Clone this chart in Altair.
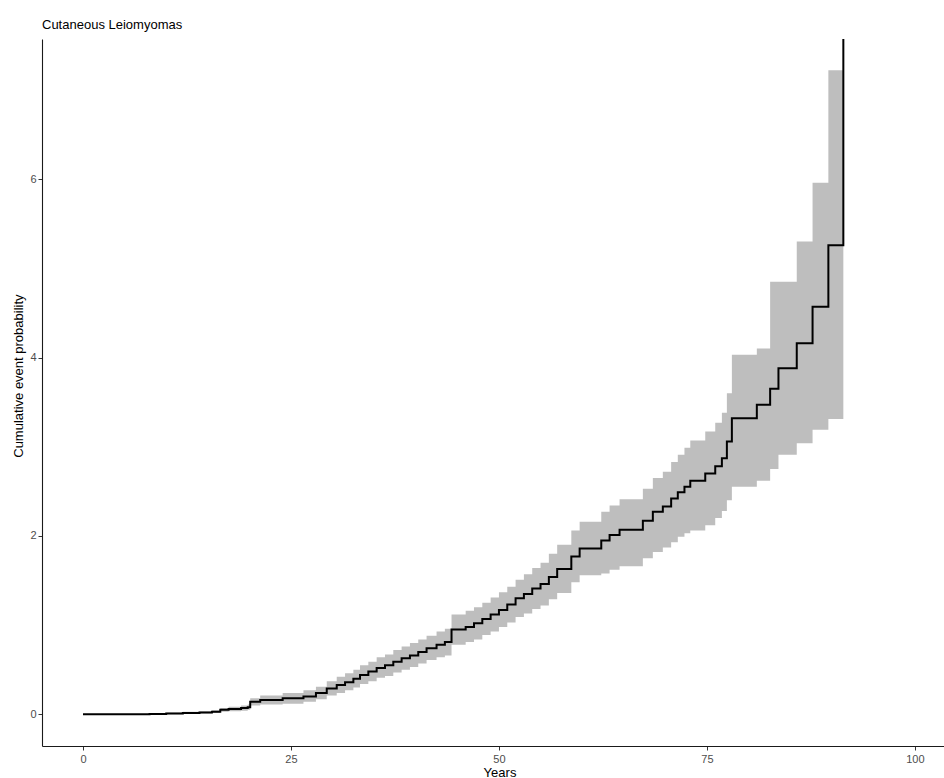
import altair as alt
import pandas as pd

# Step times (years) and cumulative event probability with confidence band
years = [0, 8, 10, 12, 14, 15.5, 16.5, 17.5, 19, 19.8, 20.1, 21.3, 24, 26.5, 28, 29.3,
         30.5, 31.5, 32.5, 33.3, 34.3, 35.3, 36.3, 37.3, 38.3, 39.3, 40.3, 41.3, 42.5,
         43.5, 44.3, 46, 47, 48, 49, 50, 51, 52, 53, 54, 55, 56, 57, 58.7, 59.7, 62.3,
         63.3, 64.5, 67.3, 68.5, 69.7, 70.7, 71.5, 72.3, 73, 74.8, 76, 76.8, 77.4, 78,
         81, 82.6, 83.6, 85.8, 87.7, 89.6, 91.4]
estimate = [0, 0.005, 0.01, 0.015, 0.02, 0.03, 0.05, 0.06, 0.07, 0.08, 0.14, 0.16, 0.18,
            0.20, 0.24, 0.29, 0.33, 0.36, 0.40, 0.44, 0.48, 0.52, 0.55, 0.59, 0.63, 0.66,
            0.70, 0.74, 0.78, 0.81, 0.95, 0.98, 1.02, 1.07, 1.12, 1.17, 1.23, 1.30, 1.35,
            1.41, 1.46, 1.54, 1.63, 1.77, 1.86, 1.95, 2.01, 2.07, 2.17, 2.27, 2.33, 2.42,
            2.49, 2.55, 2.62, 2.70, 2.78, 2.87, 3.06, 3.32, 3.47, 3.65, 3.88, 4.16, 4.57,
            5.26, 9.0]
lower = [0, 0, 0, 0.005, 0.01, 0.015, 0.03, 0.035, 0.04, 0.05, 0.10, 0.11, 0.12, 0.14,
         0.17, 0.21, 0.24, 0.27, 0.30, 0.34, 0.37, 0.41, 0.43, 0.47, 0.50, 0.53, 0.57,
         0.61, 0.64, 0.66, 0.78, 0.81, 0.84, 0.89, 0.93, 0.98, 1.03, 1.09, 1.13, 1.18,
         1.22, 1.29, 1.36, 1.48, 1.56, 1.58, 1.62, 1.66, 1.75, 1.82, 1.87, 1.93, 1.99,
         2.03, 2.06, 2.12, 2.20, 2.28, 2.40, 2.55, 2.62, 2.75, 2.91, 3.04, 3.19, 3.31, 3.31]
upper = [0, 0.01, 0.02, 0.03, 0.035, 0.045, 0.07, 0.085, 0.10, 0.11, 0.18, 0.21, 0.24,
         0.27, 0.31, 0.37, 0.42, 0.46, 0.50, 0.55, 0.59, 0.64, 0.67, 0.72, 0.76, 0.80,
         0.84, 0.88, 0.93, 0.96, 1.12, 1.16, 1.20, 1.25, 1.31, 1.37, 1.43, 1.51, 1.57,
         1.64, 1.70, 1.80, 1.90, 2.06, 2.16, 2.27, 2.34, 2.41, 2.53, 2.65, 2.72, 2.83,
         2.91, 2.99, 3.07, 3.17, 3.27, 3.38, 3.60, 4.03, 4.10, 4.85, 4.85, 5.30, 5.96,
         7.22, 7.22]

x_ticks = [0, 25, 50, 75, 100]
y_ticks = [0, 2, 4, 6]

df = pd.DataFrame({"years": years, "est": estimate, "lo": lower, "hi": upper})

FONT = "Liberation Sans"

x_scale = alt.Scale(domain=[-4.93, 103.5], nice=False, zero=False)
y_scale = alt.Scale(domain=[-0.355, 7.571], nice=False, zero=False)

x_enc = alt.X("years:Q", scale=x_scale,
              axis=alt.Axis(values=x_ticks, format="d", title="Years", grid=False,
                            domainColor="#1a1a1a", domainWidth=1.1,
                            tickColor="#333333", tickSize=4, tickWidth=1,
                            labelColor="#4d4d4d", labelFontSize=11, labelFont=FONT,
                            labelPadding=3, titleFont=FONT, titleFontSize=13,
                            titleFontWeight="normal", titleColor="#000000",
                            titleX=457.5, titlePadding=2))

band = alt.Chart(df).mark_area(interpolate="step-after", color="#bebebe",
                               opacity=1, clip=True).encode(
    x=x_enc,
    y=alt.Y("lo:Q", scale=y_scale,
            axis=alt.Axis(values=y_ticks, format="d",
                          title="Cumulative event probability",
                          grid=False, domainColor="#1a1a1a", domainWidth=1.1,
                          tickColor="#333333", tickSize=4, tickWidth=1,
                          labelColor="#4d4d4d", labelFontSize=11, labelFont=FONT,
                          labelPadding=2, titleFont=FONT, titleFontSize=13,
                          titleFontWeight="normal", titleColor="#000000",
                          titleAngle=-90, titleX=-24, titleY=336.6,
                          titleBaseline="middle", titleAlign="center")),
    y2="hi:Q",
)

line = alt.Chart(df).mark_line(interpolate="step-after", color="black",
                               strokeWidth=2, clip=True).encode(
    x=alt.X("years:Q", scale=x_scale),
    y=alt.Y("est:Q", scale=y_scale),
)

chart = (band + line).properties(
    width=902,
    height=707,
    padding={"left": 42, "top": 39, "right": 0, "bottom": 32},
    autosize=alt.AutoSizeParams(type="none"),
    background="white",
    title=alt.TitleParams("Cutaneous Leiomyomas", anchor="start", frame="group",
                          font=FONT, fontSize=13, fontWeight="normal",
                          color="#000000", baseline="alphabetic", offset=0, dy=3),
).configure_view(strokeWidth=0, stroke="transparent")

chart.save("out.html", embed_options={"renderer": "svg", "actions": False})
